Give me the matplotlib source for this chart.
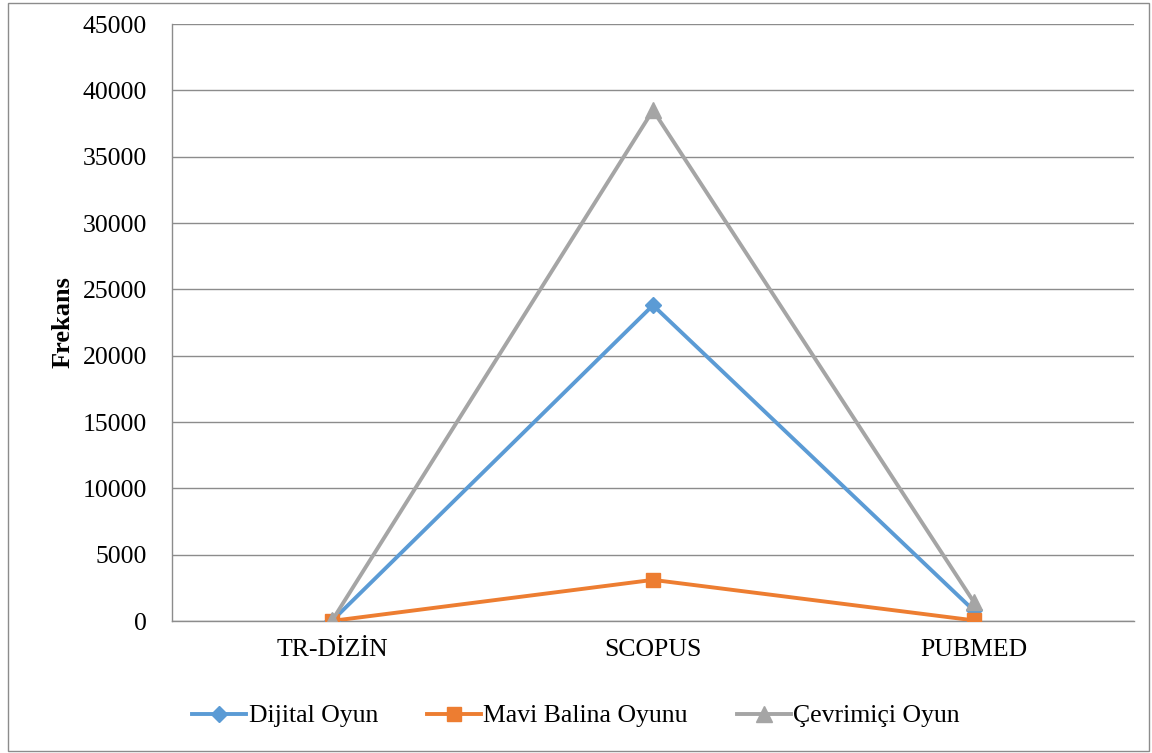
import matplotlib.pyplot as plt
from matplotlib.patches import Rectangle

# data
categories = ['TR-DİZİN', 'SCOPUS', 'PUBMED']
dijital = [30, 23800, 800]
mavi_balina = [10, 3100, 50]
cevrimici = [60, 38500, 1450]

plt.rcParams['font.family'] = ['Liberation Serif', 'DejaVu Serif']

fig = plt.figure(figsize=(11.52, 7.53), dpi=100)
ax = fig.add_axes([172 / 1152, 1 - 621 / 753, (1134 - 172) / 1152, (621 - 24) / 753])

x = range(len(categories))
ax.plot(x, dijital, color='#5B9BD5', lw=2.8, marker='D', ms=8.5, label='Dijital Oyun', zorder=3)
ax.plot(x, mavi_balina, color='#ED7D31', lw=2.8, marker='s', ms=9.5, label='Mavi Balina Oyunu', zorder=3)
ax.plot(x, cevrimici, color='#A5A5A5', lw=2.8, marker='^', ms=11, label='Çevrimiçi Oyun', zorder=3)

ax.set_xlim(-0.5, 2.5)
ax.set_ylim(0, 45000)
ax.set_yticks(range(0, 45001, 5000))
ax.set_xticks(list(x))
ax.set_xticklabels(categories)
ax.tick_params(length=0, labelsize=18.5, colors='black')
ax.tick_params(axis='y', pad=18)
ax.tick_params(axis='x', pad=13)
ax.grid(axis='y', color='#8c8c8c', lw=1)
ax.set_axisbelow(True)
for s in ['top', 'right']:
    ax.spines[s].set_visible(False)
for s in ['left', 'bottom']:
    ax.spines[s].set_color('#8c8c8c')
    ax.spines[s].set_linewidth(1)

ax.set_ylabel('Frekans', fontsize=19, fontweight='bold', labelpad=6)

fig.legend(loc='center', bbox_to_anchor=(0.5, 1 - 716 / 753), ncol=3, frameon=False,
           fontsize=18.5, handlelength=2.1, columnspacing=1.9, handletextpad=0.1)

# outer chart border
fig.add_artist(Rectangle((8 / 1152, 2 / 753), 1141 / 1152, 748 / 753, transform=fig.transFigure,
                         fill=False, edgecolor='#8c8c8c', lw=1))

fig.savefig('out.png', dpi=100)
